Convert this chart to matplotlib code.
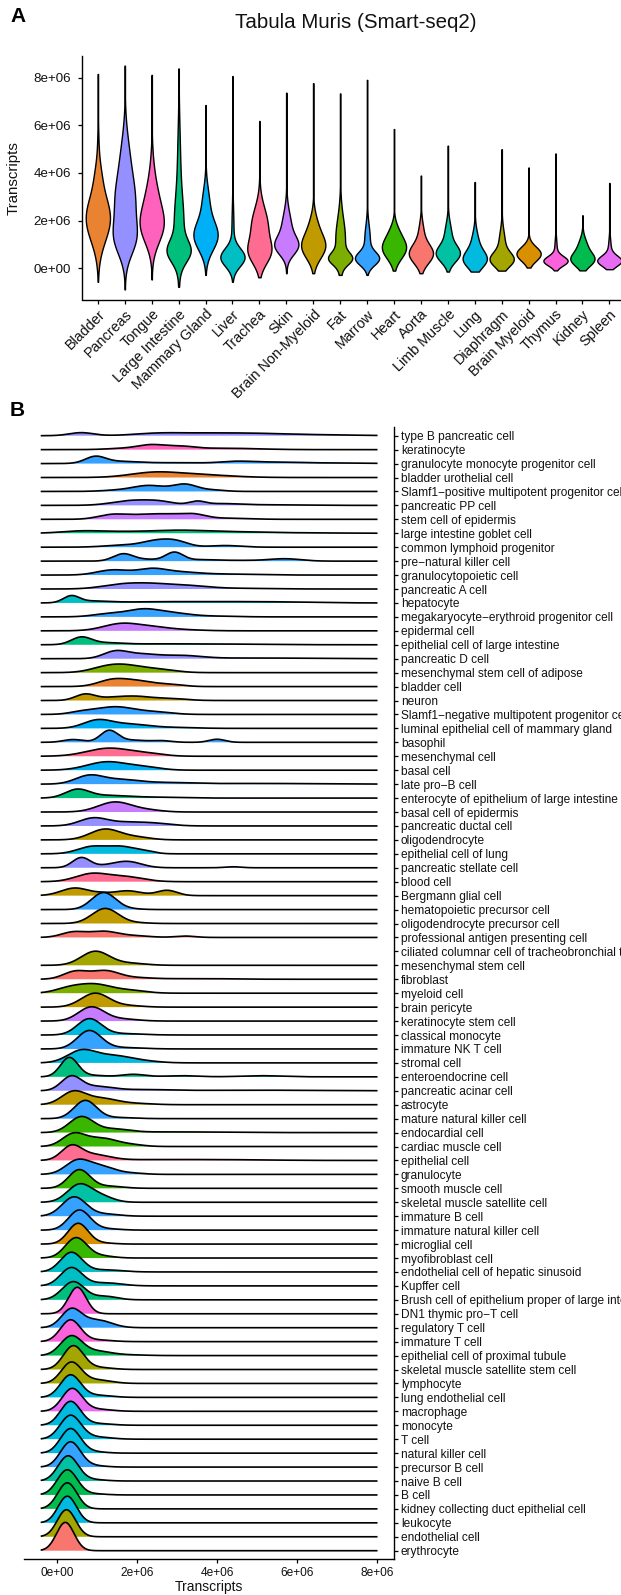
import numpy as np
import matplotlib
matplotlib.use("Agg")
import matplotlib.pyplot as plt
from matplotlib.ticker import FuncFormatter

plt.rcParams['font.family'] = ['Liberation Sans', 'DejaVu Sans']

# ---------------------------------------------------------------- palette
tissue_colors = {
    "Aorta": "#F8766D", "Bladder": "#EA8331", "Brain Myeloid": "#D89000",
    "Brain Non-Myeloid": "#C09B00", "Diaphragm": "#A3A500", "Fat": "#7CAE00",
    "Heart": "#39B600", "Kidney": "#00BB4E", "Large Intestine": "#00BF7D",
    "Limb Muscle": "#00C1A3", "Liver": "#00BFC4", "Lung": "#00BAE0",
    "Mammary Gland": "#00B0F6", "Marrow": "#35A2FF", "Pancreas": "#9590FF",
    "Skin": "#C77CFF", "Spleen": "#E76BF3", "Thymus": "#FA62DB",
    "Tongue": "#FF62BC", "Trachea": "#FF6C91",
}

# ---------------------------------------------------------------- panel A data
tissues = ["Bladder", "Pancreas", "Tongue", "Large Intestine", "Mammary Gland",
           "Liver", "Trachea", "Skin", "Brain Non-Myeloid", "Fat", "Marrow",
           "Heart", "Aorta", "Limb Muscle", "Lung", "Diaphragm",
           "Brain Myeloid", "Thymus", "Kidney", "Spleen"]
# density extent per tissue (millions of transcripts)
violin_low = [-0.58, -0.90, -0.48, -0.79, -0.29, -0.58, -0.39, -0.22, -0.22, -0.29,
              -0.29, -0.11, -0.22, -0.15, -0.15, -0.11, 0.02, -0.10, -0.10, -0.05]
violin_high = [8.17, 8.52, 8.13, 8.40, 6.86, 8.08, 6.19, 7.38, 7.78, 7.35,
               7.92, 5.85, 3.89, 5.15, 3.62, 5.00, 4.23, 4.82, 2.22, 3.58]
# density modes per tissue: (centre, spread, relative weight)
violin_peaks = [
    [(2.1, 0.95, 1.0), (3.9, 0.6, 0.15), (5.0, 0.8, 0.05)],
    [(1.2, 0.7, 1.0), (2.8, 1.1, 1.2), (4.8, 1.0, 0.4)],
    [(1.8, 0.75, 1.0), (3.0, 0.7, 0.35), (4.0, 0.8, 0.15)],
    [(0.7, 0.45, 1.0), (1.8, 1.2, 0.5), (4.5, 1.5, 0.15)],
    [(1.35, 0.6, 1.0), (2.7, 0.7, 0.3)],
    [(0.45, 0.38, 1.0), (1.5, 1.0, 0.09)],
    [(0.65, 0.5, 0.75), (1.8, 0.75, 0.65)],
    [(1.0, 0.35, 1.0), (1.6, 0.7, 0.7), (0.7, 0.3, 0.3)],
    [(0.9, 0.5, 1.0), (1.8, 0.5, 0.3)],
    [(0.4, 0.25, 1.0), (1.2, 0.9, 0.55)],
    [(0.4, 0.28, 1.0), (1.2, 0.6, 0.25)],
    [(0.85, 0.45, 1.0), (1.6, 0.35, 0.2)],
    [(0.6, 0.4, 1.0), (1.5, 0.45, 0.2)],
    [(0.6, 0.35, 1.0), (1.4, 0.5, 0.3)],
    [(0.35, 0.35, 1.0), (1.0, 0.5, 0.35)],
    [(0.35, 0.3, 1.0), (1.0, 0.55, 0.3)],
    [(0.6, 0.3, 1.0)],
    [(0.3, 0.2, 1.0), (0.8, 0.4, 0.1)],
    [(0.35, 0.28, 1.0), (0.9, 0.35, 0.4)],
    [(0.3, 0.22, 1.0), (0.8, 0.4, 0.12)],
]

# ---------------------------------------------------------------- panel B data
cell_types = [
    "type B pancreatic cell", "keratinocyte", "granulocyte monocyte progenitor cell",
    "bladder urothelial cell", "Slamf1\u2212positive multipotent progenitor cell",
    "pancreatic PP cell", "stem cell of epidermis", "large intestine goblet cell",
    "common lymphoid progenitor", "pre\u2212natural killer cell", "granulocytopoietic cell",
    "pancreatic A cell", "hepatocyte", "megakaryocyte\u2212erythroid progenitor cell",
    "epidermal cell", "epithelial cell of large intestine", "pancreatic D cell",
    "mesenchymal stem cell of adipose", "bladder cell", "neuron",
    "Slamf1\u2212negative multipotent progenitor cell",
    "luminal epithelial cell of mammary gland", "basophil", "mesenchymal cell",
    "basal cell", "late pro\u2212B cell", "enterocyte of epithelium of large intestine",
    "basal cell of epidermis", "pancreatic ductal cell", "oligodendrocyte",
    "epithelial cell of lung", "pancreatic stellate cell", "blood cell",
    "Bergmann glial cell", "hematopoietic precursor cell",
    "oligodendrocyte precursor cell", "professional antigen presenting cell",
    "ciliated columnar cell of tracheobronchial tree", "mesenchymal stem cell",
    "fibroblast", "myeloid cell", "brain pericyte", "keratinocyte stem cell",
    "classical monocyte", "immature NK T cell", "stromal cell",
    "enteroendocrine cell", "pancreatic acinar cell", "astrocyte",
    "mature natural killer cell", "endocardial cell", "cardiac muscle cell",
    "epithelial cell", "granulocyte", "smooth muscle cell",
    "skeletal muscle satellite cell", "immature B cell",
    "immature natural killer cell", "microglial cell", "myofibroblast cell",
    "endothelial cell of hepatic sinusoid", "Kupffer cell",
    "Brush cell of epithelium proper of large intestine", "DN1 thymic pro\u2212T cell",
    "regulatory T cell", "immature T cell", "epithelial cell of proximal tubule",
    "skeletal muscle satellite stem cell", "lymphocyte", "lung endothelial cell",
    "macrophage", "monocyte", "T cell", "natural killer cell", "precursor B cell",
    "naive B cell", "B cell", "kidney collecting duct epithelial cell",
    "leukocyte", "endothelial cell", "erythrocyte",
]
cell_tissue = [
    "Pancreas", "Tongue", "Marrow", "Bladder", "Marrow", "Pancreas", "Skin",
    "Large Intestine", "Marrow", "Marrow", "Marrow", "Pancreas", "Liver", "Marrow",
    "Skin", "Large Intestine", "Pancreas", "Fat", "Bladder", "Brain Non-Myeloid",
    "Marrow", "Mammary Gland", "Marrow", "Trachea", "Mammary Gland", "Marrow",
    "Large Intestine", "Skin", "Pancreas", "Brain Non-Myeloid", "Lung", "Pancreas",
    "Trachea", "Brain Non-Myeloid", "Marrow", "Brain Non-Myeloid", "Aorta",
    "Trachea", "Diaphragm", "Aorta", "Fat", "Brain Non-Myeloid", "Skin", "Lung",
    "Marrow", "Lung", "Large Intestine", "Pancreas", "Brain Non-Myeloid", "Marrow",
    "Heart", "Heart", "Trachea", "Marrow", "Heart", "Limb Muscle", "Marrow",
    "Marrow", "Brain Myeloid", "Heart", "Liver", "Liver", "Large Intestine",
    "Thymus", "Marrow", "Thymus", "Kidney", "Diaphragm", "Diaphragm", "Lung",
    "Spleen", "Lung", "Lung", "Lung", "Marrow", "Limb Muscle", "Kidney", "Kidney",
    "Lung", "Diaphragm", "Aorta",
]
# ridge modes per cell type: (centre in millions, spread, height in rows)
ridge_peaks = [
    [(0.6, 0.3, 0.22), (2.5, 0.6, 0.15), (3.7, 0.8, 0.15), (5.0, 0.8, 0.12), (6.5, 1.0, 0.06)],
    [(1.6, 0.4, 0.08), (2.35, 0.35, 0.33), (3.1, 0.35, 0.2), (4.2, 0.8, 0.1)],
    [(0.95, 0.25, 0.45), (1.5, 0.5, 0.15), (3.0, 0.8, 0.06), (4.5, 0.4, 0.14), (5.5, 0.6, 0.1), (7.0, 0.8, 0.04)],
    [(2.4, 0.6, 0.32), (3.5, 0.8, 0.2)],
    [(1.5, 0.4, 0.08), (2.3, 0.4, 0.42), (3.2, 0.3, 0.5), (3.9, 0.3, 0.1)],
    [(1.9, 0.5, 0.35), (2.6, 0.35, 0.2), (3.5, 0.2, 0.25), (4.1, 0.5, 0.12), (5.5, 0.8, 0.04)],
    [(1.35, 0.35, 0.3), (2.1, 0.45, 0.26), (2.85, 0.45, 0.3), (3.45, 0.3, 0.26), (4.3, 0.5, 0.08)],
    [(0.6, 0.5, 0.14), (1.8, 0.8, 0.12), (3.1, 0.6, 0.16), (4.3, 0.8, 0.1), (6.0, 1.0, 0.03)],
    [(1.7, 0.5, 0.15), (2.5, 0.35, 0.42), (3.0, 0.3, 0.35), (4.2, 0.4, 0.12)],
    [(1.65, 0.25, 0.52), (2.25, 0.3, 0.12), (2.93, 0.22, 0.62), (3.6, 0.4, 0.1), (4.6, 0.5, 0.05), (5.7, 0.4, 0.17)],
    [(1.4, 0.4, 0.37), (2.35, 0.35, 0.38), (3.0, 0.5, 0.2), (4.2, 0.8, 0.07)],
    [(1.6, 0.5, 0.3), (2.4, 0.5, 0.3), (3.3, 0.5, 0.2), (4.5, 0.8, 0.05)],
    [(0.35, 0.2, 0.48), (0.9, 0.4, 0.12), (2.5, 1.0, 0.08), (4.5, 1.0, 0.08), (6.0, 0.8, 0.04)],
    [(1.3, 0.4, 0.22), (2.15, 0.4, 0.5), (2.9, 0.45, 0.25), (4.0, 0.5, 0.05)],
    [(1.6, 0.45, 0.5), (2.4, 0.45, 0.22), (3.2, 0.5, 0.06)],
    [(0.6, 0.25, 0.52), (1.2, 0.4, 0.12), (2.5, 1.0, 0.06), (4.5, 1.0, 0.04)],
    [(1.45, 0.3, 0.5), (2.1, 0.4, 0.3), (3.1, 0.5, 0.22), (5.0, 1.2, 0.05)],
    [(1.2, 0.4, 0.3), (1.75, 0.45, 0.45), (2.6, 0.4, 0.2)],
    [(1.35, 0.35, 0.4), (2.0, 0.45, 0.4), (2.9, 0.3, 0.12)],
    [(0.7, 0.25, 0.45), (1.4, 0.35, 0.2), (2.0, 0.35, 0.25), (2.8, 0.4, 0.15)],
    [(0.6, 0.3, 0.15), (1.45, 0.5, 0.55), (2.5, 0.4, 0.15)],
    [(1.0, 0.35, 0.55), (1.8, 0.5, 0.3), (3.0, 0.5, 0.06)],
    [(0.4, 0.25, 0.2), (1.3, 0.22, 0.85), (1.9, 0.3, 0.15), (2.6, 0.25, 0.12), (4.0, 0.2, 0.22)],
    [(1.3, 0.55, 0.58), (2.3, 0.4, 0.15)],
    [(1.25, 0.5, 0.6), (2.2, 0.4, 0.2)],
    [(0.8, 0.35, 0.6), (1.6, 0.45, 0.3), (2.7, 0.6, 0.1), (5.0, 1.5, 0.05)],
    [(0.5, 0.3, 0.6), (1.3, 0.5, 0.18), (2.5, 0.6, 0.06)],
    [(1.45, 0.42, 0.72), (2.3, 0.35, 0.12)],
    [(0.9, 0.35, 0.55), (1.75, 0.45, 0.25), (2.5, 0.4, 0.15)],
    [(1.2, 0.38, 0.77), (2.0, 0.35, 0.18)],
    [(0.85, 0.35, 0.5), (1.6, 0.35, 0.5), (2.2, 0.25, 0.15)],
    [(0.6, 0.22, 0.72), (1.15, 0.3, 0.1), (1.75, 0.35, 0.45), (4.4, 0.2, 0.07)],
    [(0.85, 0.4, 0.55), (1.7, 0.45, 0.35)],
    [(0.45, 0.35, 0.55), (1.1, 0.2, 0.1), (1.75, 0.35, 0.35), (2.75, 0.25, 0.38)],
    [(1.16, 0.3, 1.22), (1.8, 0.3, 0.05)],
    [(1.2, 0.33, 1.08), (2.0, 0.3, 0.05)],
    [(0.4, 0.3, 0.38), (1.15, 0.35, 0.42), (1.9, 0.4, 0.12), (3.2, 0.25, 0.1)],
    [],
    [(0.95, 0.35, 1.0), (1.8, 0.4, 0.15)],
    [(0.45, 0.3, 0.55), (1.2, 0.35, 0.6), (2.0, 0.4, 0.1), (3.5, 0.8, 0.05)],
    [(0.3, 0.35, 0.35), (0.95, 0.4, 0.6), (1.8, 0.4, 0.2)],
    [(0.95, 0.35, 1.0), (1.8, 0.35, 0.1)],
    [(0.85, 0.32, 1.0), (1.6, 0.4, 0.15)],
    [(0.8, 0.3, 1.15), (1.6, 0.5, 0.1)],
    [(0.8, 0.3, 1.3), (1.6, 0.5, 0.1)],
    [(0.6, 0.35, 0.85), (1.4, 0.45, 0.5), (2.2, 0.4, 0.1)],
    [(0.3, 0.22, 1.38), (0.9, 0.3, 0.1), (1.9, 0.3, 0.18), (3.1, 0.4, 0.08), (5.1, 0.5, 0.08)],
    [(0.35, 0.25, 1.0), (1.0, 0.4, 0.3), (2.2, 0.6, 0.08), (5.0, 1.5, 0.04)],
    [(0.4, 0.3, 0.9), (1.1, 0.4, 0.45), (2.0, 0.4, 0.08)],
    [(0.7, 0.28, 1.3), (1.5, 0.4, 0.08)],
    [(0.6, 0.3, 1.12), (1.4, 0.4, 0.25), (3.0, 1.0, 0.05)],
    [(0.4, 0.28, 0.85), (1.1, 0.4, 0.6), (1.9, 0.3, 0.1)],
    [(0.35, 0.25, 0.95), (0.9, 0.4, 0.4), (2.5, 1.2, 0.06), (4.5, 1.0, 0.04)],
    [(0.5, 0.3, 0.95), (1.1, 0.35, 0.55), (1.9, 0.3, 0.08)],
    [(0.55, 0.27, 1.33), (1.3, 0.35, 0.15)],
    [(0.55, 0.3, 1.25), (1.1, 0.3, 0.4)],
    [(0.42, 0.3, 1.38), (1.2, 0.35, 0.15)],
    [(0.55, 0.27, 1.43), (1.2, 0.35, 0.1)],
    [(0.52, 0.25, 1.48), (1.1, 0.3, 0.08)],
    [(0.47, 0.27, 1.45), (1.1, 0.3, 0.15)],
    [(0.35, 0.27, 1.4), (1.2, 0.4, 0.15)],
    [(0.35, 0.27, 1.3), (1.2, 0.4, 0.22)],
    [(0.4, 0.28, 1.3), (1.2, 0.3, 0.25)],
    [(0.5, 0.22, 1.9)],
    [(0.35, 0.25, 1.3), (1.0, 0.35, 0.55)],
    [(0.33, 0.25, 1.55), (1.0, 0.35, 0.12)],
    [(0.35, 0.27, 1.38), (1.0, 0.35, 0.3), (1.8, 0.4, 0.05)],
    [(0.4, 0.25, 1.68), (1.0, 0.35, 0.15)],
    [(0.35, 0.25, 1.5), (1.0, 0.35, 0.25)],
    [(0.33, 0.25, 1.6), (1.0, 0.35, 0.15)],
    [(0.37, 0.25, 1.62), (1.0, 0.35, 0.15)],
    [(0.33, 0.25, 1.7), (1.0, 0.35, 0.12)],
    [(0.33, 0.26, 1.7), (1.0, 0.35, 0.15)],
    [(0.33, 0.25, 1.75), (0.9, 0.3, 0.1)],
    [(0.33, 0.25, 1.8), (0.9, 0.3, 0.1)],
    [(0.27, 0.25, 1.8), (0.9, 0.3, 0.1)],
    [(0.25, 0.25, 1.8), (0.9, 0.3, 0.08)],
    [(0.25, 0.24, 1.87)],
    [(0.25, 0.23, 1.91)],
    [(0.23, 0.23, 1.94)],
    [(0.2, 0.22, 2.03)],
]
ridge_range = (-0.416, 8.02)   # millions of transcripts

SCALE = 1e6
y_ticks_A = [0, 2, 4, 6, 8]
x_ticks_B = [0, 2, 4, 6, 8]


def mixture(grid, peaks):
    out = np.zeros_like(grid)
    for c, s, a in peaks:
        out += a * np.exp(-0.5 * ((grid - c) / s) ** 2)
    return out


sci = FuncFormatter(lambda v, pos: format(v, ".0e"))
TEXT = "#111111"
W, H = 621, 1595

fig = plt.figure(figsize=(W / 100, H / 100), dpi=100)

# ================================================================ panel A
axA = fig.add_axes([81.7 / W, 1 - 299.5 / H, (625.5 - 81.7) / W, (299.5 - 56) / H])
for i, t in enumerate(tissues):
    yy = np.linspace(violin_low[i], violin_high[i], 500)
    w = mixture(yy, violin_peaks[i])
    w = np.maximum(w / w.max() * 0.45, 0.008)
    axA.fill_betweenx(yy * SCALE, i + 1 - w, i + 1 + w,
                      facecolor=tissue_colors[t], edgecolor="black", linewidth=1.0)
axA.set_xlim(0.4, len(tissues) + 0.6)
axA.set_ylim(-1.326e6, 8.926e6)
axA.set_yticks([v * SCALE for v in y_ticks_A])
axA.yaxis.set_major_formatter(sci)
axA.set_xticks(np.arange(1, len(tissues) + 1))
axA.set_xticklabels(tissues, rotation=45, ha="right", va="top",
                    rotation_mode="anchor")
for s in ("top", "right"):
    axA.spines[s].set_visible(False)
for s in ("left", "bottom"):
    axA.spines[s].set_linewidth(1.0)
axA.tick_params(axis="both", length=3, width=0.9, labelcolor=TEXT)
axA.tick_params(axis="y", pad=4.5, labelsize=9.6)
axA.tick_params(axis="x", pad=2.5, labelsize=10.4)
axA.set_ylabel("Transcripts", fontsize=10.8, color=TEXT)
axA.yaxis.set_label_coords(-(81.7 - 21) / (625.5 - 81.7), 0.5)
fig.text(356 / W, 1 - 23 / H, "Tabula Muris (Smart-seq2)", ha="center",
         va="center", fontsize=14.8, color=TEXT)
fig.text(18 / W, 1 - 17 / H, "A", ha="center", va="center", fontsize=15,
         fontweight="bold")

# ================================================================ panel B
axB = fig.add_axes([24.3 / W, 1 - 1559.3 / H, (394.3 - 24.3) / W, (1559.3 - 426.7) / H])
n = len(cell_types)
xg = np.linspace(ridge_range[0], ridge_range[1], 900)
for k, (name, tissue, peaks) in enumerate(zip(cell_types, cell_tissue, ridge_peaks)):
    if not peaks:
        continue
    base = n - k
    h = mixture(xg, peaks)
    axB.fill_between(xg * SCALE, base, base + h, facecolor=tissue_colors[tissue],
                     edgecolor="none", zorder=2 + 2 * k)
    axB.plot(xg * SCALE, base + h, color="black", linewidth=1.2,
             zorder=3 + 2 * k, solid_capstyle="butt")
axB.set_ylim(0.383, n + 0.646)
axB.set_xlim(-0.827e6, 8.44e6)
axB.set_yticks(np.arange(n, 0, -1))
axB.set_yticklabels(cell_types)
axB.yaxis.tick_right()
axB.set_xticks([v * SCALE for v in x_ticks_B])
axB.xaxis.set_major_formatter(sci)
for s in ("top", "left"):
    axB.spines[s].set_visible(False)
for s in ("right", "bottom"):
    axB.spines[s].set_linewidth(1.0)
axB.tick_params(axis="both", length=3, width=0.9, labelcolor=TEXT)
axB.tick_params(axis="y", pad=1.8, labelsize=8.6)
axB.tick_params(axis="x", pad=2.3, labelsize=8.6)
axB.set_xlabel("Transcripts", fontsize=10, color=TEXT, labelpad=1)
fig.text(17 / W, 1 - 410.7 / H, "B", ha="center", va="center", fontsize=15,
         fontweight="bold")

fig.savefig("out.png", dpi=100)
